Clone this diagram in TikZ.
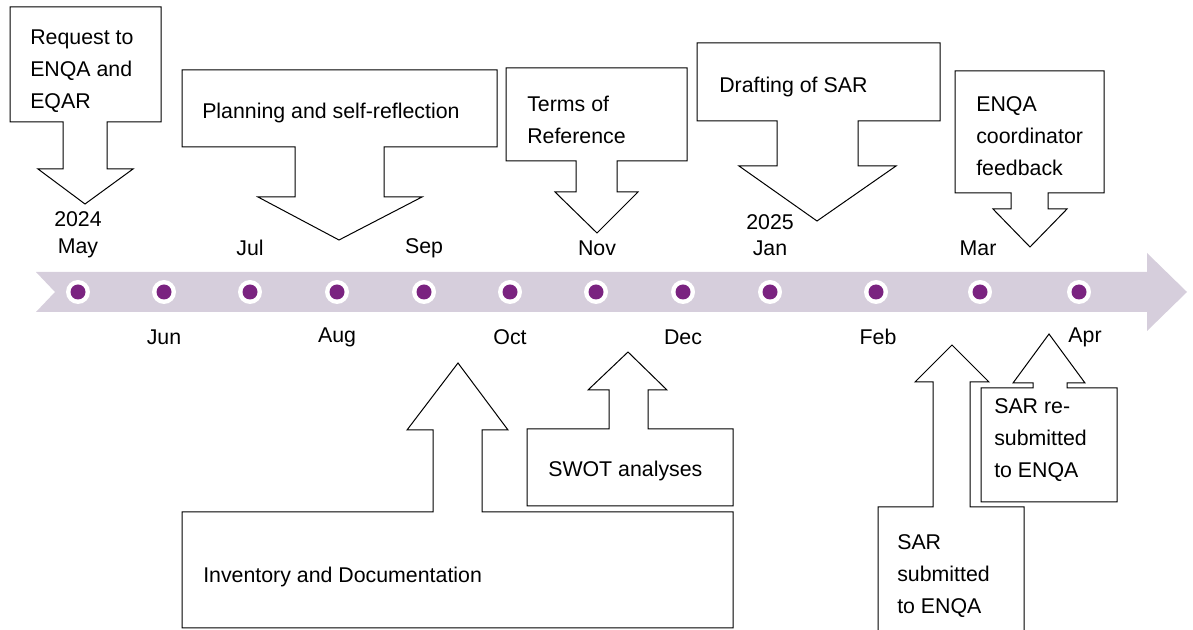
\documentclass[tikz,border=0pt]{standalone}
\usepackage{fontspec}
\setmainfont{Liberation Sans}
\definecolor{bandc}{RGB}{214,206,220}
\definecolor{dotc}{RGB}{122,35,128}
\tikzset{
  callout/.style={draw=black, line width=0.75pt, fill=white, line join=miter},
  lbl/.style={font=\fontsize{16}{24}\selectfont, inner sep=0pt, align=left, anchor=west},
  month/.style={font=\fontsize{16}{20}\selectfont, inner sep=0pt, align=center},
  dotw/.style={circle, fill=white, inner sep=0pt, minimum size=18pt},
  dotp/.style={circle, fill=dotc, inner sep=0pt, minimum size=11.25pt},
}
\begin{document}
\begin{tikzpicture}[x=0.75pt, y=-0.75pt]
\useasboundingbox (0,0) rectangle (1193,630);
% timeline band
\fill[bandc] (36,272) -- (1147,272) -- (1147,253) -- (1187,292) -- (1147,331) -- (1147,312) -- (36,312) -- (55,292) -- cycle;
% dots
\foreach \x [count=\i] in {78,164,250,337,424,510,596,683,770,876,980,1079} {
  \node[dotw] (w\i) at (\x,292) {};
  \node[dotp] (d\i) at (\x,292) {};
}
% month labels
\node[month] (may) at (78,235) {2024\\May};
\node[month] (jun) at (164,337) {Jun};
\node[month] (jul) at (250,248) {Jul};
\node[month] (aug) at (337,337) {Aug};
\node[month] (sep) at (424,248) {Sep};
\node[month] (oct) at (510,337) {Oct};
\node[month] (nov) at (597,248) {Nov};
\node[month] (dec) at (683,337) {Dec};
\node[month] (jan) at (770,235) {2025\\Jan};
\node[month] (feb) at (878,337) {Feb};
\node[month] (mar) at (978,248) {Mar};
\node[month] (apr) at (1085,337) {Apr};
% callouts above
\draw[callout] (10,7) -- (161,7) -- (161,122) -- (107,122) -- (107,169) -- (133,169) -- (85,204) -- (38,169) -- (63,169) -- (63,122) -- (10,122) -- cycle;
\draw[callout] (182,70) -- (497,70) -- (497,147) -- (384,147) -- (384,197) -- (422,197) -- (339,240) -- (258,197) -- (295,197) -- (295,147) -- (182,147) -- cycle;
\draw[callout] (506,68) -- (687,68) -- (687,161) -- (617,161) -- (617,192) -- (638,192) -- (597,233) -- (555,192) -- (576,192) -- (576,161) -- (506,161) -- cycle;
\draw[callout] (697,43) -- (940,43) -- (940,121) -- (858,121) -- (858,166) -- (896,166) -- (817,221) -- (739,166) -- (777,166) -- (777,121) -- (697,121) -- cycle;
\draw[callout] (955,71) -- (1104,71) -- (1104,193) -- (1048,193) -- (1048,209) -- (1067,209) -- (1030,247) -- (993,209) -- (1011,209) -- (1011,193) -- (955,193) -- cycle;
% callouts below
\draw[callout] (182,512) -- (433,512) -- (433,430) -- (407,430) -- (458,363) -- (508,430) -- (482,430) -- (482,512) -- (733,512) -- (733,628) -- (182,628) -- cycle;
\draw[callout] (527,429) -- (609,429) -- (609,390) -- (588,390) -- (628,352) -- (667,390) -- (648,390) -- (648,429) -- (733,429) -- (733,506) -- (527,506) -- cycle;
\fill[white] (878,630) -- (878,507) -- (933,507) -- (933,382) -- (915,382) -- (952,345) -- (989,382) -- (970,382) -- (970,507) -- (1024,507) -- (1024,630) -- cycle;
\draw[callout, fill=none] (878,630) -- (878,507) -- (933,507) -- (933,382) -- (915,382) -- (952,345) -- (989,382) -- (970,382) -- (970,507) -- (1024,507) -- (1024,630);
\draw[callout] (981,388) -- (1033,388) -- (1033,383) -- (1013,383) -- (1049,334) -- (1085,383) -- (1067,383) -- (1067,388) -- (1117,388) -- (1117,502) -- (981,502) -- cycle;
% texts
\node[lbl] (t1) at (30,71) {Request to\\ENQA and\\EQAR};
\node[lbl] (t2) at (202,113) {Planning and self-reflection};
\node[lbl] (t3) at (527,120) {Terms of\\Reference};
\node[lbl] (t4) at (719,87) {Drafting of SAR};
\node[lbl] (t5) at (976,136) {ENQA\\coordinator\\feedback};
\node[lbl] (t6) at (203,577) {Inventory and Documentation};
\node[lbl] (t7) at (548,471) {SWOT analyses};
\node[lbl] (t8) at (897,576) {SAR\\submitted\\to ENQA};
\node[lbl] (t9) at (994,440) {SAR re-\\submitted\\to ENQA};
\end{tikzpicture}
\end{document}
